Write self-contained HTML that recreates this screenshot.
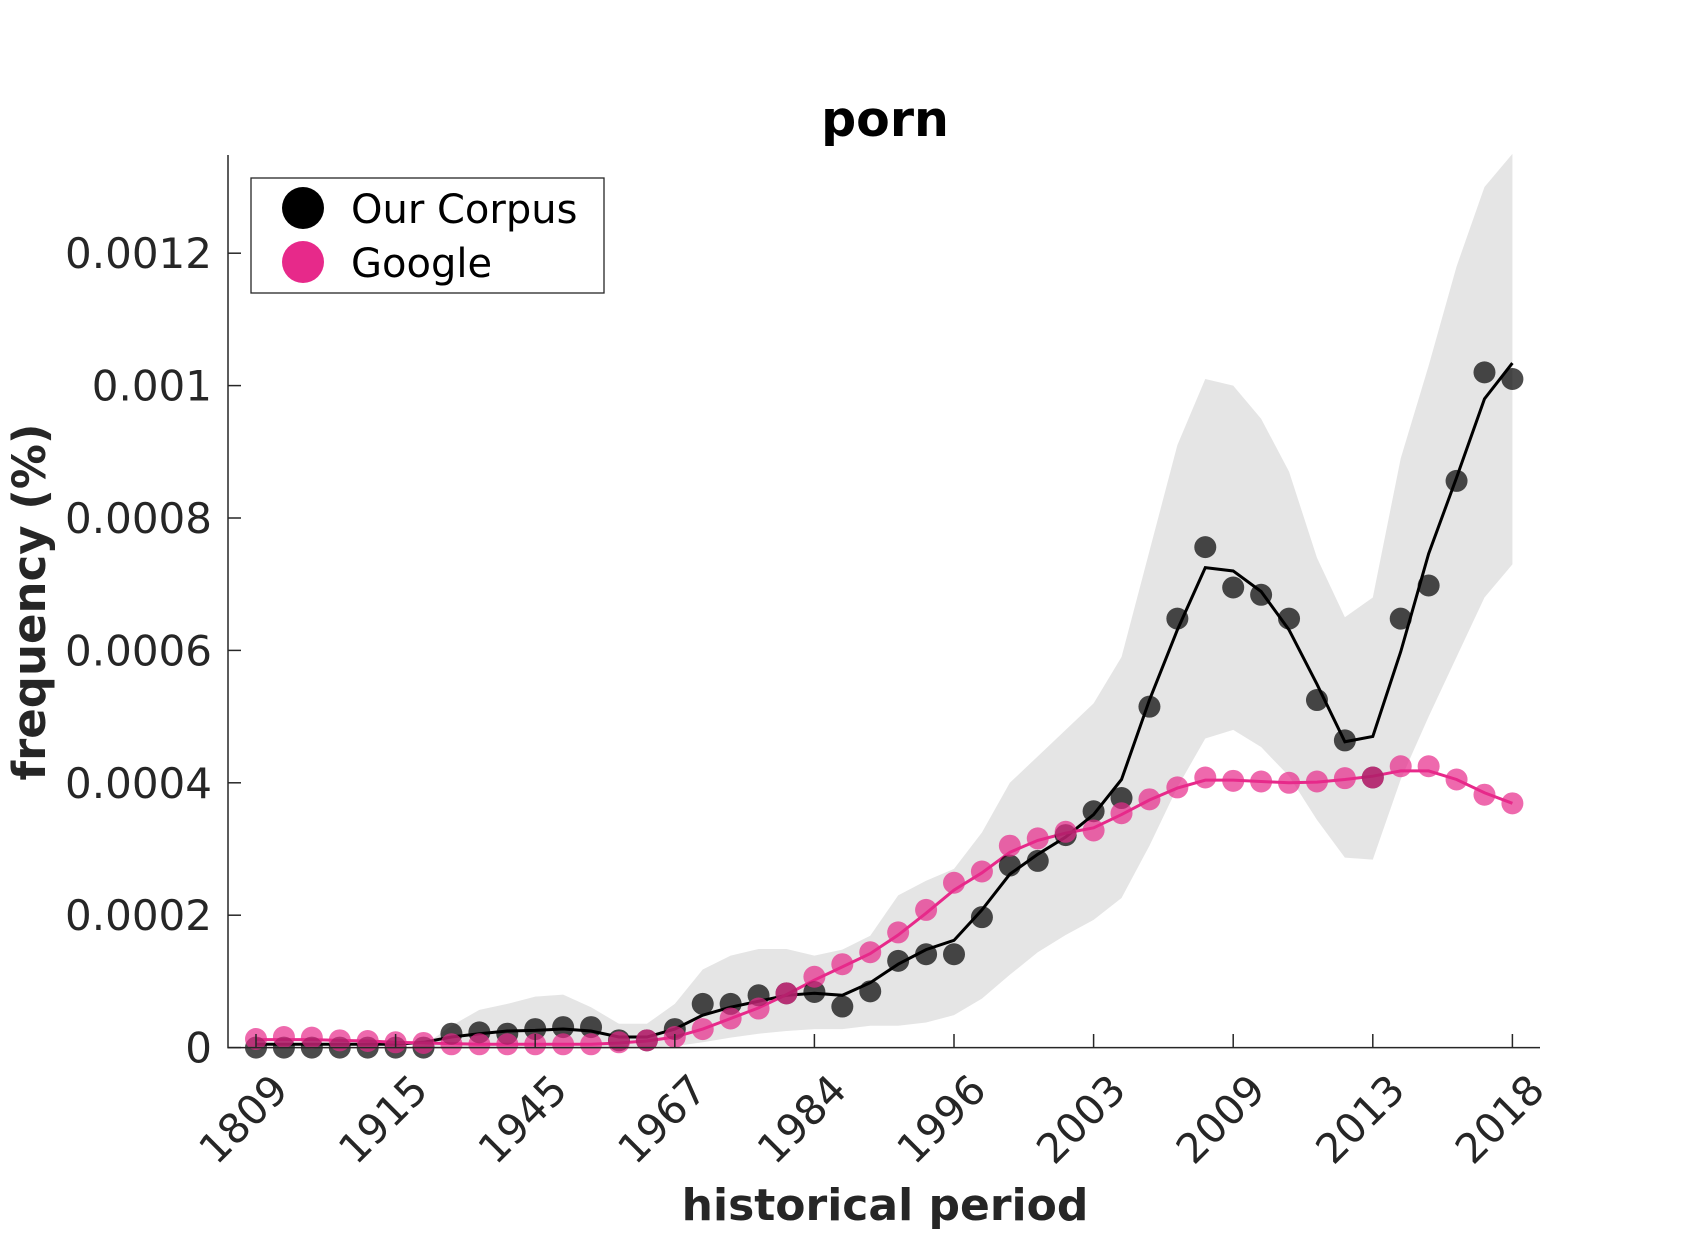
<!DOCTYPE html>
<html><head><meta charset="utf-8"><style>
html,body{margin:0;padding:0;background:#fff}
svg{display:block}
text{font-family:"DejaVu Sans","Liberation Sans",sans-serif;fill:#262626}
</style></head><body>
<svg id="chart" width="1700" height="1246" viewBox="0 0 1700 1246" xmlns="http://www.w3.org/2000/svg">
<g id="band"></g>
<g id="lines"></g>
<g id="dots"></g>
<g id="axes"></g>
<text x="885" y="136" text-anchor="middle" font-size="49" font-weight="bold" style="fill:#000">porn</text>
<text x="885" y="1220" text-anchor="middle" font-size="44" font-weight="bold">historical period</text>
<text transform="translate(45,602) rotate(-90)" text-anchor="middle" font-size="45" font-weight="bold">frequency (%)</text>
<g>
<rect x="251" y="178" width="353" height="115" fill="#fff" stroke="#262626" stroke-width="1.3"/>
<circle cx="303" cy="208" r="21" fill="#000"/>
<text x="351" y="223" font-size="40" style="fill:#000">Our Corpus</text>
<circle cx="303" cy="262" r="21" fill="#e7298a"/>
<text x="351" y="277" font-size="40" style="fill:#000">Google</text>
</g>
</svg>
<script>
// values in units of 1e-4 %
const categories = ["1809","1915","1945","1967","1984","1996","2003","2009","2013","2018"];
const tickIndex = [0,5,10,15,20,25,30,35,40,45];
const yTicks = [0,2,4,6,8,10,12];
const yTickLabels = ["0","0.0002","0.0004","0.0006","0.0008","0.001","0.0012"];
const corpusPoints = [0,0,0,0,0,0,0,0.21,0.23,0.21,0.28,0.31,0.31,0.11,0.11,0.28,0.66,0.66,0.79,0.82,0.84,0.62,0.85,1.31,1.41,1.41,1.97,2.75,2.82,3.21,3.57,3.77,5.15,6.48,7.56,6.95,6.84,6.48,5.25,4.64,4.08,6.48,6.98,8.56,10.2,10.1];
const corpusLine = [0.05,0.05,0.05,0.05,0.05,0.05,0.08,0.16,0.21,0.25,0.26,0.28,0.25,0.16,0.16,0.28,0.49,0.61,0.70,0.79,0.82,0.79,0.98,1.26,1.48,1.62,2.08,2.62,2.92,3.18,3.52,4.05,5.25,6.31,7.25,7.20,6.89,6.31,5.49,4.62,4.70,5.98,7.46,8.61,9.8,10.34];
const googlePoints = [0.13,0.16,0.15,0.11,0.10,0.08,0.07,0.05,0.05,0.05,0.05,0.05,0.05,0.08,0.11,0.16,0.28,0.44,0.59,0.82,1.07,1.26,1.44,1.74,2.08,2.49,2.66,3.05,3.16,3.26,3.28,3.54,3.75,3.93,4.08,4.03,4.02,4.00,4.02,4.07,4.08,4.25,4.25,4.05,3.82,3.69];
const googleLine = [0.12,0.12,0.12,0.11,0.10,0.08,0.07,0.06,0.05,0.05,0.05,0.05,0.05,0.07,0.10,0.16,0.28,0.44,0.60,0.80,1.02,1.22,1.42,1.70,2.03,2.38,2.64,2.95,3.13,3.24,3.32,3.52,3.74,3.92,4.04,4.04,4.02,4.00,4.01,4.05,4.10,4.18,4.18,4.05,3.85,3.69];
const bandUpper = [0,0,0,0,0,0,0.03,0.33,0.57,0.66,0.77,0.8,0.61,0.36,0.36,0.66,1.18,1.39,1.49,1.49,1.39,1.48,1.69,2.30,2.52,2.70,3.25,4.0,4.4,4.8,5.2,5.9,7.5,9.1,10.1,10.0,9.5,8.7,7.4,6.5,6.8,8.9,10.3,11.8,13.0,13.5];
const bandLower = [0,0,0,0,0,0,0,0,0,0,0,0,0,0,0,0.02,0.08,0.15,0.21,0.25,0.28,0.28,0.33,0.33,0.38,0.49,0.74,1.1,1.44,1.7,1.93,2.26,3.05,3.93,4.67,4.8,4.54,4.1,3.44,2.87,2.84,4.05,5.0,5.9,6.8,7.3];

const NS="http://www.w3.org/2000/svg";
const X0=256, X1=1512.4, Y0=1047.6, PER=66.2, N=corpusPoints.length;
const x=i=>X0+i*(X1-X0)/(N-1);
const y=v=>Y0-v*PER;
function mk(tag,parent){const e=document.createElementNS(NS,tag);document.getElementById(parent).appendChild(e);return e;}

let d="M"+bandUpper.map((v,i)=>x(i)+","+y(v)).join("L");
for(let i=N-1;i>=0;i--) d+="L"+x(i)+","+y(bandLower[i]);
const band=mk("path","band");


band.setAttribute("d",d+"Z");band.setAttribute("fill","#e5e5e5");

function line(arr,color,name){
  const p=mk("polyline","lines");
  
  
  p.setAttribute("points",arr.map((v,i)=>x(i)+","+y(v)).join(" "));
  p.setAttribute("fill","none");p.setAttribute("stroke",color);p.setAttribute("stroke-width","3");
}
line(corpusLine,"#000","our-corpus-line");
line(googleLine,"#e7298a","google-line");

function dots(arr,color,name){
  arr.forEach((v,i)=>{
    const c=mk("circle","dots");
    
    
    c.setAttribute("cx",x(i));c.setAttribute("cy",y(v));c.setAttribute("r",11);
    c.setAttribute("fill",color);c.setAttribute("fill-opacity","0.7");
  });
}
dots(corpusPoints,"#000","our-corpus-point");
dots(googlePoints,"#e7298a","google-point");

const ax=mk("path","axes");


ax.setAttribute("d","M228,155L228,1047.6L1540,1047.6");
ax.setAttribute("fill","none");ax.setAttribute("stroke","#262626");ax.setAttribute("stroke-width","1.5");
yTicks.forEach((t,k)=>{
  const l=mk("line","axes");
  
  
  l.setAttribute("x1",228);l.setAttribute("x2",241);l.setAttribute("y1",y(t));l.setAttribute("y2",y(t));
  l.setAttribute("stroke","#262626");l.setAttribute("stroke-width","1.5");
  const tx=mk("text","axes");
  
  
  tx.setAttribute("x",212);tx.setAttribute("y",y(t)+15);tx.setAttribute("text-anchor","end");tx.setAttribute("font-size","42");
  tx.textContent=yTickLabels[k];
});
tickIndex.forEach((ti,k)=>{
  const xx=x(ti);
  const l=mk("line","axes");
  
  
  l.setAttribute("x1",xx);l.setAttribute("x2",xx);l.setAttribute("y1",1047.6);l.setAttribute("y2",1034);
  l.setAttribute("stroke","#262626");l.setAttribute("stroke-width","1.5");
  const tx=mk("text","axes");
  
  
  tx.setAttribute("transform","translate("+(xx+14)+",1072) rotate(-45)");
  tx.setAttribute("text-anchor","end");tx.setAttribute("font-size","41");tx.setAttribute("dy","0.7em");
  tx.textContent=categories[k];
});
</script>
</body></html>
